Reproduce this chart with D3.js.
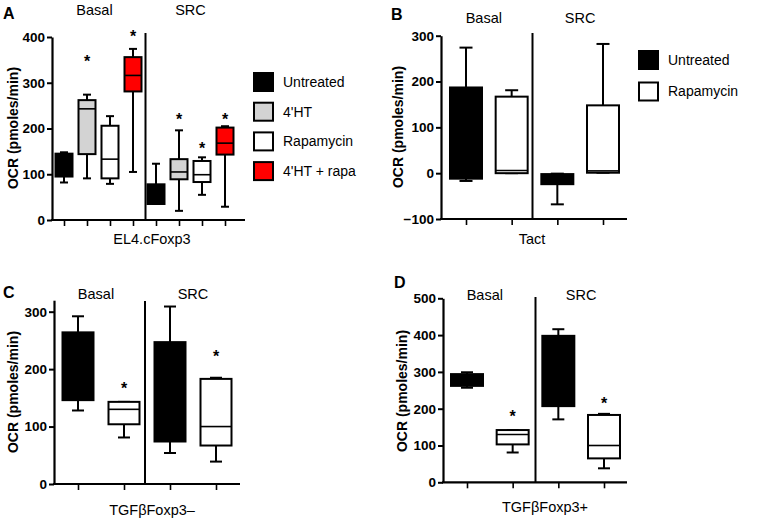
<!DOCTYPE html>
<html><head><meta charset="utf-8">
<script src="https://cdn.jsdelivr.net/npm/d3@7"></script>
<style>
body{margin:0;background:#fff}
text{font-family:"Liberation Sans",Arial,Helvetica,sans-serif;fill:#000}
</style>
</head><body>
<svg id="chart" width="763" height="525"></svg>
<script>
// ---------- data ----------
const groups = ["Basal", "SRC"];
const treatmentsA = ["Untreated", "4'HT", "Rapamycin", "4'HT + rapa"];
const treatmentsB = ["Untreated", "Rapamycin"];
const colorsA = ["#000000", "#d3d3d3", "#ffffff", "#ff0000"];
const colorsB = ["#000000", "#ffffff"];

const yTicksA = [0, 100, 200, 300, 400];
const yTicksB = [-100, 0, 100, 200, 300];
const yTicksC = [0, 100, 200, 300];
const yTicksD = [0, 100, 200, 300, 400, 500];

// Panel A: EL4.cFoxp3 (Basal x4, SRC x4)
const aMin  = [82, 91, 79, 105, 35, 20, 55, 29];
const aQ1   = [95, 144, 91, 281, 35, 89, 83, 143];
const aMed  = [125, 243, 133, 316, 50, 105, 99, 168];
const aQ3   = [145, 262, 206, 356, 78, 133, 129, 202];
const aMax  = [148, 274, 227, 374, 123, 196, 137, 205];
const aStar = [null, 355, null, 409, null, 227, 164, 227];

// Panel B: Tact
const bMin  = [-17, 0, -68, 1];
const bQ1   = [-12, 0, -24, 1];
const bMed  = [90, 6, -10, 5];
const bQ3   = [187, 167, -2, 148];
const bMax  = [274, 181, -1, 282];
const bStar = [null, null, null, null];

// Panel C: TGFβFoxp3–
const cMin  = [128, 81, 54, 39];
const cQ1   = [146, 104, 74, 67];
const cMed  = [200, 130, 160, 100];
const cQ3   = [264, 143, 247, 183];
const cMax  = [292, 143, 309, 185];
const cStar = [null, 172, null, 228];

// Panel D: TGFβFoxp3+
const dMin  = [257, 81, 171, 38];
const dQ1   = [262, 103, 207, 65];
const dMed  = [280, 130, 300, 100];
const dQ3   = [294, 142, 398, 183];
const dMax  = [299, 142, 416, 186];
const dStar = [null, 188, null, 224];

// ---------- drawing ----------
const svg = d3.select("#chart");

function panel(cfg) {
  const n = cfg.min.length;
  const idx = d3.range(n);
  const x = d3.scalePoint().domain(idx).range(cfg.xRange);
  const y = d3.scaleLinear().domain(cfg.yDomain).range(cfg.yRange);
  const g = svg.append("g");

  // y axis
  const ya = g.append("g").attr("transform", `translate(${cfg.x0},0)`)
    .call(d3.axisLeft(y).tickValues(cfg.yTicks).tickSize(5).tickSizeOuter(0).tickPadding(2));
  ya.select(".domain").attr("stroke-width", 2.2);
  ya.selectAll(".tick line").attr("stroke-width", 2);
  ya.selectAll(".tick text").style("font-size", "13.5px").style("font-weight", "bold")
    .style("font-family", '"Liberation Sans",Arial,sans-serif');

  // x axis
  const yb = y(cfg.yDomain[0]);
  const xa = g.append("g").attr("transform", `translate(0,${yb})`)
    .call(d3.axisBottom(x).tickSize(6).tickSizeOuter(0).tickFormat(""));
  xa.select(".domain").remove();
  xa.selectAll(".tick line").attr("stroke-width", 1.6);
  g.append("line").attr("x1", cfg.x0 - 1).attr("x2", cfg.x1).attr("y1", yb).attr("y2", yb)
    .attr("stroke", "#000").attr("stroke-width", 2.2);

  // divider between Basal and SRC
  const half = n / 2;
  const xd = (x(half - 1) + x(half)) / 2 + cfg.divDx;
  g.append("line").attr("x1", xd).attr("x2", xd).attr("y1", cfg.divTop).attr("y2", yb)
    .attr("stroke", "#000").attr("stroke-width", 2);

  // group titles
  groups.forEach((name, gi) => {
    const cx = (x(gi * half) + x(gi * half + half - 1)) / 2 + (gi === 0 ? cfg.basalDx : 0);
    g.append("text").attr("x", cx).attr("y", cfg.titleY).attr("text-anchor", "middle")
      .style("font-size", "14.5px").text(name);
  });

  // boxes
  const bw = cfg.boxW, cw = cfg.capW;
  idx.forEach(i => {
    const cx = x(i);
    const col = cfg.colors[i % cfg.colors.length];
    const bx = g.append("g");
    // whiskers
    bx.append("line").attr("x1", cx).attr("x2", cx).attr("y1", y(cfg.max[i])).attr("y2", y(cfg.q3[i]))
      .attr("stroke", "#000").attr("stroke-width", 2);
    bx.append("line").attr("x1", cx).attr("x2", cx).attr("y1", y(cfg.q1[i])).attr("y2", y(cfg.min[i]))
      .attr("stroke", "#000").attr("stroke-width", 2);
    bx.append("line").attr("x1", cx - cw / 2).attr("x2", cx + cw / 2).attr("y1", y(cfg.max[i])).attr("y2", y(cfg.max[i]))
      .attr("stroke", "#000").attr("stroke-width", 2);
    bx.append("line").attr("x1", cx - cw / 2).attr("x2", cx + cw / 2).attr("y1", y(cfg.min[i])).attr("y2", y(cfg.min[i]))
      .attr("stroke", "#000").attr("stroke-width", 2);
    // box
    bx.append("rect").attr("x", cx - bw / 2).attr("width", bw)
      .attr("y", y(cfg.q3[i])).attr("height", Math.max(0.5, y(cfg.q1[i]) - y(cfg.q3[i])))
      .attr("fill", col).attr("stroke", "#000").attr("stroke-width", 2);
    // median
    bx.append("line").attr("x1", cx - bw / 2).attr("x2", cx + bw / 2).attr("y1", y(cfg.med[i])).attr("y2", y(cfg.med[i]))
      .attr("stroke", "#000").attr("stroke-width", 1.6);
    // star
    if (cfg.star[i] != null) {
      g.append("text").attr("x", cx).attr("y", y(cfg.star[i]) + 9).attr("text-anchor", "middle")
        .style("font-size", "16px").style("font-weight", "bold").text("*");
    }
  });

  // y-axis title
  g.append("text").attr("transform", `translate(${cfg.yTitleX},${cfg.yTitleY}) rotate(-90)`)
    .attr("text-anchor", "middle").attr("dy", "0.35em")
    .style("font-size", "14px").style("font-weight", "bold").text("OCR (pmoles/min)");
  // x-axis label
  g.append("text").attr("x", cfg.xLabelX).attr("y", cfg.xLabelY).attr("text-anchor", "middle")
    .style("font-size", "14.5px").text(cfg.xLabel);
  // panel letter
  g.append("text").attr("x", cfg.letterX).attr("y", cfg.letterY)
    .style("font-size", "16px").style("font-weight", "bold").text(cfg.letter);
}

function legend(names, colors, lx, ly, step) {
  const lg = svg.append("g");
  names.forEach((nm, i) => {
    lg.append("rect").attr("x", lx).attr("y", ly + i * step).attr("width", 19).attr("height", 18)
      .attr("fill", colors[i]).attr("stroke", "#000").attr("stroke-width", 2);
    lg.append("text").attr("x", lx + 29).attr("y", ly + i * step + 9).attr("dy", "0.35em")
      .style("font-size", "14px").text(nm);
  });
}

panel({ letter: "A", letterX: 3, letterY: 19,
  min: aMin, q1: aQ1, med: aMed, q3: aQ3, max: aMax, star: aStar, colors: colorsA,
  x0: 52, x1: 245, xRange: [64, 225], yDomain: [0, 400], yRange: [220, 37], yTicks: yTicksA,
  boxW: 17, capW: 8, divTop: 33, divDx: 1, titleY: 15, basalDx: -4,
  yTitleX: 13, yTitleY: 128, xLabel: "EL4.cFoxp3", xLabelX: 152, xLabelY: 244 });

panel({ letter: "B", letterX: 391, letterY: 20,
  min: bMin, q1: bQ1, med: bMed, q3: bQ3, max: bMax, star: bStar, colors: colorsB,
  x0: 441, x1: 627, xRange: [466, 603], yDomain: [-100, 300], yRange: [219, 35.7], yTicks: yTicksB,
  boxW: 32, capW: 13, divTop: 33, divDx: -2, titleY: 22.5, basalDx: -5,
  yTitleX: 398, yTitleY: 127, xLabel: "Tact", xLabelX: 532, xLabelY: 244 });

panel({ letter: "C", letterX: 3, letterY: 298,
  min: cMin, q1: cQ1, med: cMed, q3: cQ3, max: cMax, star: cStar, colors: colorsB,
  x0: 54, x1: 240, xRange: [78, 216], yDomain: [0, 320], yRange: [484, 300.2], yTicks: yTicksC,
  boxW: 31, capW: 12, divTop: 301, divDx: -2, titleY: 299, basalDx: -5,
  yTitleX: 13, yTitleY: 392, xLabel: "TGFβFoxp3–", xLabelX: 152, xLabelY: 515 });

panel({ letter: "D", letterX: 394, letterY: 288,
  min: dMin, q1: dQ1, med: dMed, q3: dQ3, max: dMax, star: dStar, colors: colorsB,
  x0: 443, x1: 627, xRange: [467, 604], yDomain: [0, 500], yRange: [482.3, 298.3], yTicks: yTicksD,
  boxW: 32, capW: 12, divTop: 297, divDx: 0, titleY: 300, basalDx: -5,
  yTitleX: 402, yTitleY: 391, xLabel: "TGFβFoxp3+", xLabelX: 545, xLabelY: 512 });

legend(treatmentsA, colorsA, 254, 73, 29.7);
legend(treatmentsB, colorsB, 639, 51, 31.5);
</script>
</body></html>
